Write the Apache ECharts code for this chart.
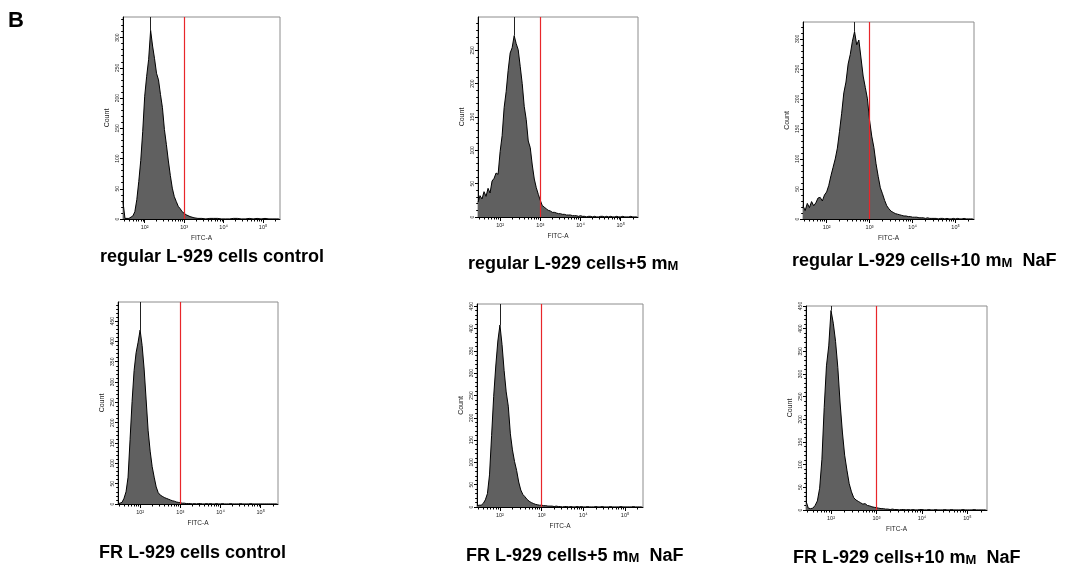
<!DOCTYPE html>
<html><head><meta charset="utf-8">
<script src="https://cdn.jsdelivr.net/npm/echarts@6/dist/echarts.min.js"></script>
<style>html,body{margin:0;padding:0;background:#fff}#c{width:1068px;height:567px}</style>
</head><body><div id="c"></div>
<script>
// FITC-A bin centres, in log10 units
const fitcBins = [
1.45,1.50,1.55,1.60,1.65,1.70,1.75,1.80,1.85,1.90,
1.95,2.00,2.05,2.10,2.15,2.20,2.25,2.30,2.35,2.40,
2.45,2.50,2.55,2.60,2.65,2.70,2.75,2.80,2.85,2.90,
2.95,3.00,3.05,3.10,3.15,3.20,3.25,3.30,3.35,3.40,
3.45,3.50,3.55,3.60,3.65,3.70,3.75,3.80,3.85,3.90,
3.95,4.00,4.05,4.10,4.15,4.20,4.25,4.30,4.35,4.40,
4.45,4.50,4.55,4.60,4.65,4.70,4.75,4.80,4.85,4.90,
4.95,5.00,5.05,5.10,5.15,5.20,5.25,5.30,5.35,5.40];

const regularControl = [
28,1,0,1,3,5,12,32,62,97,
145,203,236,264,312,286,265,241,230,206,
184,148,123,96,72,51,37,29,21,17,
12,10,7,6,4,3,2,3,1,2,
1,1,0,1,1,0,1,0,1,1,
0,1,0,1,0,0,1,0,1,0,
0,1,0,0,1,0,0,0,1,0,
0,0,1,0,0,0,0,0,0,0];

const regular5mM = [
22,32,27,38,31,43,36,54,58,66,
64,98,122,164,188,220,246,254,272,260,
251,226,200,166,146,114,104,78,57,44,
34,25,17,15,12,10,9,7,7,6,
5,5,4,4,3,3,3,2,2,2,
1,2,1,1,0,1,1,0,1,0,
0,1,1,0,1,0,1,0,0,1,
0,0,1,0,0,0,1,0,0,0];

const regular10mM = [
22,14,26,19,29,22,27,35,36,30,
40,45,56,72,86,100,118,146,176,210,
228,258,274,296,312,290,298,268,238,219,
200,164,138,119,92,71,52,42,31,22,
17,13,11,9,8,7,6,5,5,4,
4,3,3,3,2,2,2,1,2,1,
1,1,1,0,1,1,0,1,0,0,
1,0,1,0,0,1,0,0,0,0];

const frControl = [
1,2,4,14,30,66,158,252,328,372,
398,428,390,332,256,180,130,92,66,42,
28,22,19,16,14,12,10,8,7,5,
4,3,2,2,1,1,1,0,1,0,
1,1,0,0,1,0,1,0,0,1,
0,0,1,0,0,0,1,0,0,0,
0,1,0,0,0,0,1,0,0,0,
0,0,0,0,0,0,0,0,0,0];

const fr5mM = [
3,4,4,8,16,30,72,160,248,316,
372,408,364,306,258,226,164,128,102,82,
56,38,28,23,17,13,10,8,6,5,
4,4,3,3,2,2,2,1,2,1,
1,0,1,1,0,1,0,0,1,0,
1,0,0,1,0,0,0,1,0,0,
1,0,0,0,1,0,0,0,0,1,
0,0,0,0,0,1,0,0,0,0];

const fr10mM = [
20,4,3,4,10,20,48,112,226,318,
362,440,412,372,314,236,172,121,88,58,
40,27,22,19,16,13,14,10,9,7,
6,5,4,3,3,2,2,1,2,1,
1,0,1,1,0,1,0,1,0,0,
1,1,0,0,1,0,0,1,0,0,
0,1,0,0,1,0,0,0,0,1,
0,0,0,0,1,0,0,0,0,0];

const panelCounts = [regularControl, regular5mM, regular10mM, frControl, fr5mM, fr10mM];
// modal channel (off-scale spike) position and foot value
const modeLog = [2.15, 2.35, 2.65, 2.00, 2.00, 2.00];
const modeCount = [312, 272, 312, 428, 408, 440];
const gateLog = 3;            // red gate at 10^3
const countMax = [334, 300, 328, 497, 455, 450];
const countLabelsA = [0,50,100,150,200,250,300];
const countLabelsB = [0,50,100,150,200,250];
const countLabelsC = [0,50,100,150,200,250,300,350,400,450];
const panelCountLabels = [countLabelsA, countLabelsB, countLabelsA, countLabelsC, countLabelsC, countLabelsC];
const xTickValues = [2,3,4,5];
const xTickLabels = ['10²','10³','10⁴','10⁵'];
const xMin = 1.45, xMax = 5.43;

const panelTitles = [
  '{b|regular L-929 cells control}',
  '{b|regular L-929 cells+5 m}{s|M}',
  '{b|regular L-929 cells+10 m}{s|M}{b|  NaF}',
  '{b|FR L-929 cells control}',
  '{b|FR L-929 cells+5 m}{s|M}{b|  NaF}',
  '{b|FR L-929 cells+10 m}{s|M}{b|  NaF}'
];

// layout (pixels)
const gridBoxes = [
  [123, 17, 157, 202],
  [478, 17, 160, 200],
  [803, 22, 171, 197],
  [118, 302, 160, 202],
  [477, 304, 166, 203],
  [806, 306, 181, 204]
];
const titlePos = [[100,246],[468,253],[792,250],[99,542],[466,545],[793,547]];

const FONT = 'Liberation Sans, Arial, sans-serif';

// minor log ticks
const minorX = [];
for (let n = 1; n <= 5; n++) for (let k = 2; k <= 9; k++) {
  const v = n + Math.log10(k);
  if (v >= xMin && v <= xMax) minorX.push(v);
}

const option = {
  animation: false,
  backgroundColor: '#fff',
  title: [], grid: [], xAxis: [], yAxis: [], series: []
};

option.title.push({left: 8, top: 10, padding: 0, text: 'B',
  textStyle: {fontSize: 22, fontWeight: 'bold', color: '#000', fontFamily: FONT}});

panelCounts.forEach((counts, p) => {
  const [l, t, w, h] = gridBoxes[p];
  option.title.push({
    left: titlePos[p][0], top: titlePos[p][1], padding: 0, text: panelTitles[p],
    textStyle: {rich: {
      b: {fontSize: 18, fontWeight: 'bold', color: '#000', fontFamily: FONT, verticalAlign: 'bottom', lineHeight: 20},
      s: {fontSize: 13, fontWeight: 'bold', color: '#000', fontFamily: FONT, verticalAlign: 'bottom', lineHeight: 20}
    }}
  });
  option.grid.push({left: l, top: t, width: w, height: h, show: true,
    borderColor: '#8c8c8c', borderWidth: 1, backgroundColor: 'transparent'});

  const labels = panelCountLabels[p];
  const minorY = [];
  for (let v = 10; v < countMax[p]; v += 10) if (v % 50 !== 0) minorY.push(v);

  option.xAxis.push({
    gridIndex: p, type: 'value', min: xMin, max: xMax, position: 'bottom',
    name: 'FITC-A', nameLocation: 'middle', nameGap: 16,
    nameTextStyle: {fontSize: 6.5, color: '#222', fontFamily: FONT},
    axisLine: {show: true, lineStyle: {color: '#000', width: 1}},
    axisTick: {show: true, customValues: xTickValues, length: 4, lineStyle: {color: '#000'}},
    axisLabel: {show: true, customValues: xTickValues, fontSize: 5.5, margin: 5, color: '#222', fontFamily: FONT,
      formatter: v => xTickLabels[xTickValues.indexOf(Math.round(v))]},
    splitLine: {show: false}
  });
  option.xAxis.push({
    gridIndex: p, type: 'value', min: xMin, max: xMax, position: 'bottom',
    axisLine: {show: false},
    axisTick: {show: true, customValues: minorX, length: 2.5, lineStyle: {color: '#000'}},
    axisLabel: {show: false}, splitLine: {show: false}
  });
  option.yAxis.push({
    gridIndex: p, type: 'value', min: 0, max: countMax[p], position: 'left',
    name: 'Count', nameLocation: 'middle', nameGap: 12, nameRotate: 90,
    nameTextStyle: {fontSize: 7, color: '#222', fontFamily: FONT},
    axisLine: {show: true, lineStyle: {color: '#000', width: 1}},
    axisTick: {show: true, customValues: labels, length: 3, lineStyle: {color: '#000'}},
    axisLabel: {show: true, customValues: labels, rotate: 90, fontSize: 5, margin: 3, color: '#222', fontFamily: FONT},
    splitLine: {show: false}
  });
  option.yAxis.push({
    gridIndex: p, type: 'value', min: 0, max: countMax[p], position: 'left',
    axisLine: {show: false},
    axisTick: {show: true, customValues: minorY, length: 1.8, lineStyle: {color: '#000'}},
    axisLabel: {show: false}, splitLine: {show: false}
  });
  option.series.push({
    type: 'line', xAxisIndex: 2 * p, yAxisIndex: 2 * p,
    data: fitcBins.map((x, i) => [x, counts[i]]),
    symbol: 'none', clip: true,
    lineStyle: {color: '#000', width: 1},
    areaStyle: {color: '#606060', opacity: 1},
    markLine: {
      silent: true, symbol: 'none', animation: false, label: {show: false},
      data: [
        {xAxis: gateLog, lineStyle: {color: '#e8262a', width: 1.2, type: 'solid'}},
        [{coord: [modeLog[p], modeCount[p]], lineStyle: {color: '#222', width: 1, type: 'solid'}},
         {coord: [modeLog[p], countMax[p]]}]
      ]
    }
  });
});

const chart = echarts.init(document.getElementById('c'), null, {renderer: 'canvas'});
chart.setOption(option);
</script>
</body></html>
